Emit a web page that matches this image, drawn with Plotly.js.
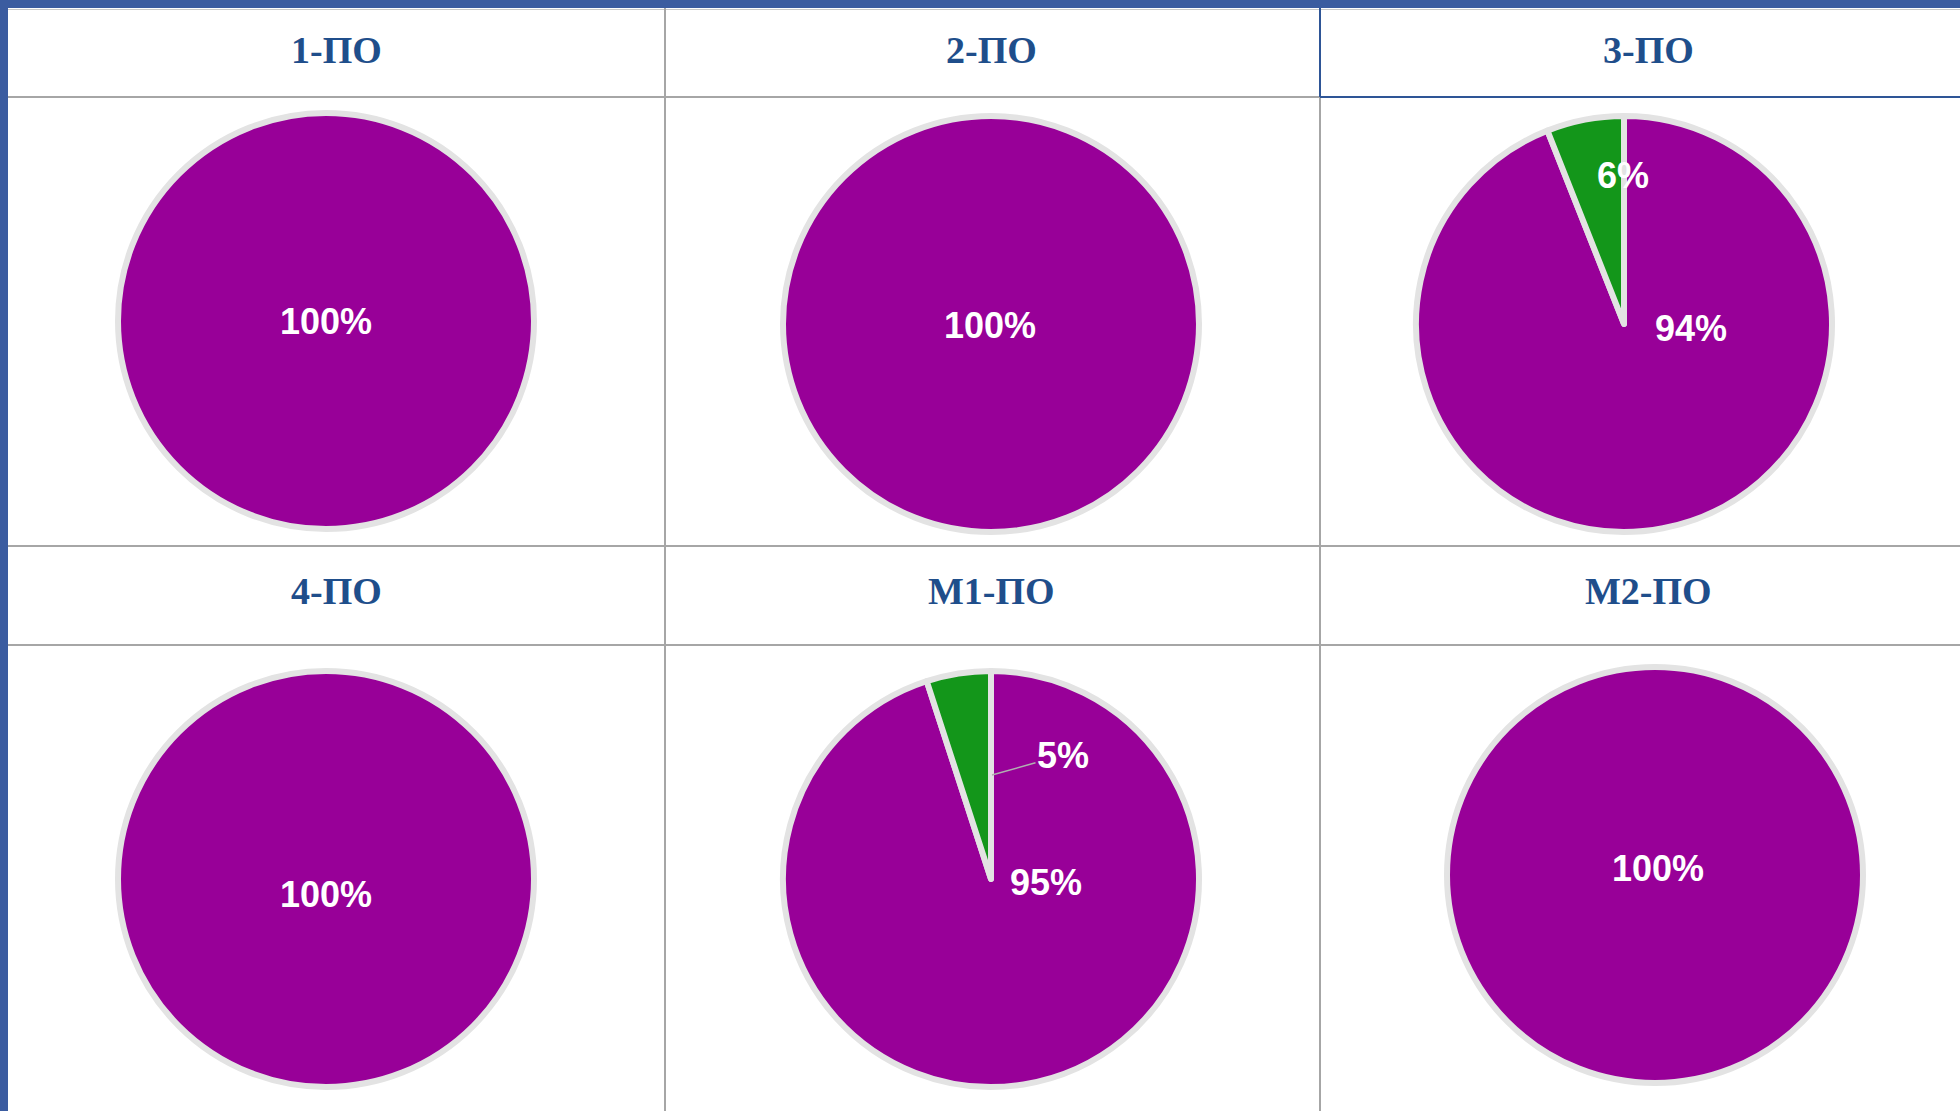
<!DOCTYPE html>
<html>
<head>
<meta charset="utf-8">
<script src="https://cdn.plot.ly/plotly-3.0.1.min.js"></script>
<style>
  html, body { margin: 0; padding: 0; background: #ffffff; }
  #chart { width: 1960px; height: 1111px; }
</style>
</head>
<body>
<div id="chart"></div>
<script>
// ---------- DATA ----------
const groups = ['1-ПО', '2-ПО', '3-ПО', '4-ПО', 'М1-ПО', 'М2-ПО'];
const sliceNames = ['Выполнено', 'Не выполнено'];
const mainShare = [100, 100, 94, 100, 95, 100];
const otherShare = [0, 0, 6, 0, 5, 0];

// ---------- LAYOUT CONFIG (positions / styles) ----------
const W = 1960, H = 1111;
const pieCenters = [[326, 321], [991, 324], [1624, 324], [326, 879], [991, 879], [1655, 875]];
const pieRadius = 208;
const headerPos = [[336, 50], [992, 50], [1648, 50], [336, 591], [992, 591], [1648, 591]];
// label text-centre offsets from pie centre [main slice, other slice]
const mainLabelOffset = [[0, 0], [-1, 1], [67, 4], [0, 16], [55, 3], [3, -7]];
const otherLabelOffset = [null, null, [-1, -149], null, [72, -124], null];
const otherLeaderTip = [null, null, null, null, [1, -104], null];
const colors = ['#980098', '#13961a'];
const px = x => x / W;
const py = y => 1 - y / H;

const traces = groups.map((g, i) => {
  const [cx, cy] = pieCenters[i];
  const vals = [mainShare[i], otherShare[i]];
  const keep = vals.map((v, k) => k).filter(k => vals[k] > 0);
  return {
    type: 'pie',
    name: g,
    labels: keep.map(k => sliceNames[k]),
    values: keep.map(k => vals[k]),
    sort: false,
    direction: 'clockwise',
    rotation: 0,
    textinfo: 'none',
    hoverinfo: 'none',
    showlegend: false,
    marker: { colors: keep.map(k => colors[k]), line: { color: '#e3e3e3', width: 6 } },
    domain: { x: [px(cx - pieRadius), px(cx + pieRadius)], y: [py(cy + pieRadius), py(cy - pieRadius)] }
  };
});

const annotations = [];
const labelFont = { family: 'Arial, "Liberation Sans", sans-serif', size: 36, color: '#ffffff' };
groups.forEach((g, i) => {
  const [cx, cy] = pieCenters[i];
  const total = mainShare[i] + otherShare[i];
  // header
  annotations.push({
    xref: 'paper', yref: 'paper', x: px(headerPos[i][0]), y: py(headerPos[i][1]),
    xanchor: 'center', yanchor: 'middle', showarrow: false,
    text: '<b>' + g + '</b>',
    font: { family: '"Times New Roman", "Liberation Serif", serif', size: 38, color: '#1f4e8b' }
  });
  // main slice label
  annotations.push({
    xref: 'paper', yref: 'paper',
    x: px(cx + mainLabelOffset[i][0]), y: py(cy + mainLabelOffset[i][1]),
    xanchor: 'center', yanchor: 'middle', showarrow: false,
    text: '<b>' + Math.round(mainShare[i] / total * 100) + '%</b>', font: labelFont
  });
  // other slice label
  if (otherShare[i] > 0) {
    const txt = '<b>' + Math.round(otherShare[i] / total * 100) + '%</b>';
    if (otherLeaderTip[i]) {
      const tip = otherLeaderTip[i], lo = otherLabelOffset[i];
      annotations.push({
        xref: 'paper', yref: 'paper',
        x: px(cx + tip[0]), y: py(cy + tip[1]),
        ax: lo[0] - tip[0], ay: lo[1] - tip[1],
        showarrow: true, arrowhead: 0, arrowwidth: 1.5, arrowcolor: '#b0b0b0',
        text: txt, font: labelFont
      });
    } else {
      annotations.push({
        xref: 'paper', yref: 'paper',
        x: px(cx + otherLabelOffset[i][0]), y: py(cy + otherLabelOffset[i][1]),
        xanchor: 'center', yanchor: 'middle', showarrow: false,
        text: txt, font: labelFont
      });
    }
  }
});

const grid = '#a6a6a6';
const blue = '#3b5ca0';
const line = (x0, y0, x1, y1, color, width) => ({
  type: 'line', xref: 'paper', yref: 'paper', layer: 'above',
  x0: px(x0), y0: py(y0), x1: px(x1), y1: py(y1), line: { color: color, width: width }
});
const shapes = [
  line(8, 9.5, W, 9.5, '#c8c8c8', 1),
  line(8, 97, W, 97, grid, 2),
  line(8, 546, W, 546, grid, 2),
  line(8, 645, W, 645, grid, 2),
  line(665, 8, 665, H, grid, 2),
  line(1320, 8, 1320, H, grid, 2),
  // selected cell outline
  line(1320, 8, 1320, 97, '#2e5596', 2),
  line(1320, 97, W, 97, '#2e5596', 2),
  // outer blue frame
  { type: 'rect', xref: 'paper', yref: 'paper', layer: 'above', x0: 0, x1: 1, y0: py(8), y1: 1, fillcolor: blue, line: { width: 0 } },
  { type: 'rect', xref: 'paper', yref: 'paper', layer: 'above', x0: 0, x1: px(8), y0: 0, y1: 1, fillcolor: blue, line: { width: 0 } }
];

const layout = {
  width: W, height: H,
  margin: { l: 0, r: 0, t: 0, b: 0 },
  paper_bgcolor: '#ffffff',
  showlegend: false,
  annotations: annotations,
  shapes: shapes
};

Plotly.newPlot('chart', traces, layout, { displayModeBar: false, staticPlot: true });
</script>
</body>
</html>
